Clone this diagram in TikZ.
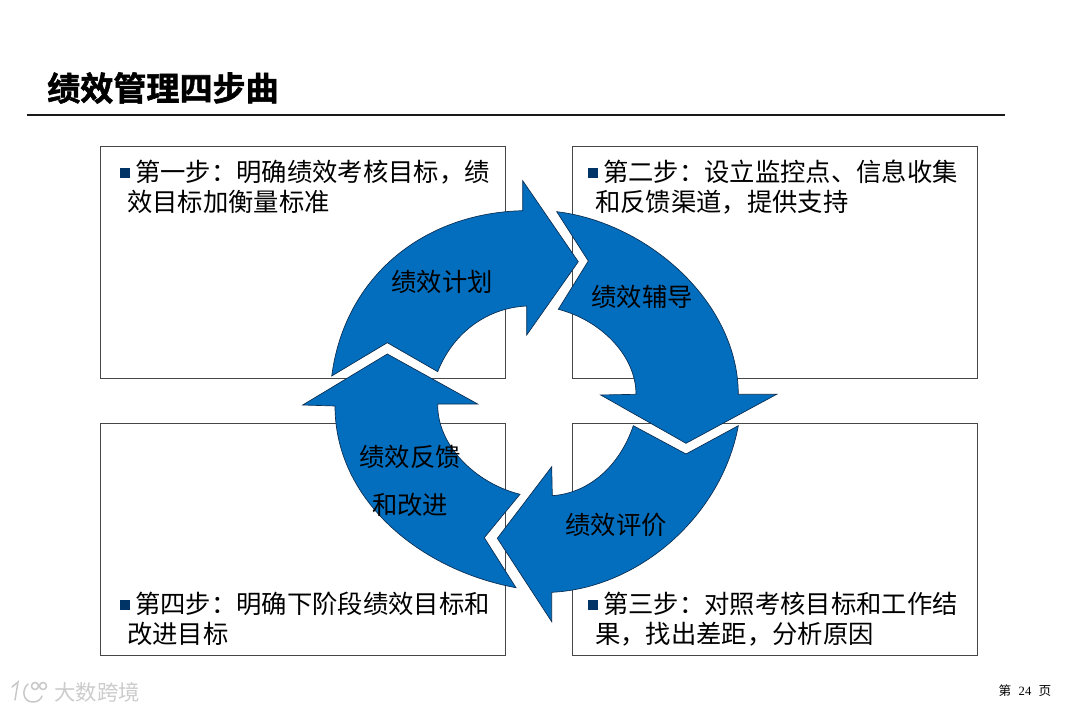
\documentclass[tikz,border=0pt]{standalone}
\usepackage{fontspec}
\setmainfont{Noto Sans CJK SC}
\newfontfamily\boldcjk[FakeBold=1.6]{Noto Sans CJK SC Bold}
\newfontfamily\serifnum{Liberation Serif}
\definecolor{arrowblue}{RGB}{4,110,190}
\definecolor{bulletnavy}{RGB}{0,51,102}
\definecolor{boxline}{RGB}{70,70,70}
\definecolor{arrowline}{RGB}{10,45,80}
\tikzset{
  x=0.75pt,y=-0.75pt,
  stepbox/.style={draw=boxline,line width=0.6pt,fill=white},
  flow/.style={draw=arrowline,line width=0.5pt,fill=arrowblue,line join=miter},
  bodytext/.style={anchor=west,inner sep=0pt,font=\fontsize{19}{22}\selectfont,text=black},
  flowtext/.style={anchor=center,inner sep=0pt,font=\fontsize{19}{22}\selectfont,text=black},
  bulletmark/.style={fill=bulletnavy,draw=none,minimum size=7.2pt,inner sep=0pt},
  marklogo/.style={draw=black!22,line width=1.1pt,line cap=round}
}
\begin{document}
\begin{tikzpicture}
\useasboundingbox (0,0) rectangle (1080,712);
\fill[white] (0,0) rectangle (1080,712);
% title
\node[anchor=west,inner sep=0pt,font=\boldcjk\fontsize{24.8}{28}\selectfont] (title) at (47,88) {绩效管理四步曲};
\coordinate (ruleL) at (27,115);
\coordinate (ruleR) at (1005,115);
\draw[line width=2pt,black!90] (ruleL) -- (ruleR);
% boxes
\draw[stepbox] (100,146) rectangle (505,378);
\draw[stepbox] (572,146) rectangle (977,378);
\draw[stepbox] (572,423) rectangle (977,655);
\draw[stepbox] (100,423) rectangle (505,655);
% box texts
\node[bulletmark] (b1) at (125,173) {};
\node[bodytext] (s1a) at (135,172) {第一步：明确绩效考核目标，绩};
\node[bodytext] (s1b) at (127,202) {效目标加衡量标准};
\node[bulletmark] (b2) at (593,173) {};
\node[bodytext] (s2a) at (603,172) {第二步：设立监控点、信息收集};
\node[bodytext] (s2b) at (595,202) {和反馈渠道，提供支持};
\node[bulletmark] (b3) at (593,605) {};
\node[bodytext] (s3a) at (603,604) {第三步：对照考核目标和工作结};
\node[bodytext] (s3b) at (595,634) {果，找出差距，分析原因};
\node[bulletmark] (b4) at (125,605) {};
\node[bodytext] (s4a) at (135,604) {第四步：明确下阶段绩效目标和};
\node[bodytext] (s4b) at (127,634) {改进目标};
% arrow 1
\draw[flow] (331.7,376) .. controls (345,275) and (425,213) .. (522.7,210.7)
  -- (522.7,180.7) -- (578.3,261.7) -- (526.7,335) -- (526.7,306)
  .. controls (485,308) and (452,335) .. (437.7,371.7) -- (387.3,342.7) -- cycle;
% arrow 2
\draw[flow] (556.7,211.7) .. controls (645,222) and (738,300) .. (738.3,394.3)
  -- (776.7,394.3) -- (686,443.3) -- (600.7,395) -- (636,394.3)
  .. controls (636,355) and (600,320) .. (558.3,309.3) -- (588.3,261) -- cycle;
% arrow 3
\draw[flow] (738.3,425.7) .. controls (722,515) and (640,588) .. (551.7,592.3)
  -- (551.7,621.7) -- (497.3,538.3) -- (551.7,466.7) -- (552.3,495.7)
  .. controls (590,493) and (620,465) .. (633.3,425.7) -- (686,454) -- cycle;
% arrow 4
\draw[flow] (516,587.7) .. controls (420,570) and (335,500) .. (335,406)
  -- (302.7,405) -- (387.3,354) -- (477.7,404) -- (437.7,404)
  .. controls (437,445) and (475,483) .. (520,494.3) -- (484.3,537.7) -- cycle;
% arrow labels
\node[flowtext] (f1) at (442,282) {绩效计划};
\node[flowtext] (f2) at (642,297) {绩效辅导};
\node[flowtext] (f3) at (616,525) {绩效评价};
\node[flowtext] (f4a) at (410,457) {绩效反馈};
\node[flowtext] (f4b) at (410,505) {和改进};
% page number
\node[anchor=center,inner sep=0pt,font=\fontsize{9.5}{11}\selectfont] (page) at (1025,691) {第\hspace{5.5pt}{\serifnum 24}\hspace{5.5pt}页};
% watermark
\draw[marklogo] (12,687) -- (18,682) -- (15,700);
\draw[marklogo] (28,684) .. controls (21,690) and (23,702) .. (33,702) .. controls (38,702) and (41,699) .. (42,696);
\draw[marklogo] (35,686) circle[radius=3.5];
\draw[marklogo] (43,686) circle[radius=3.5];
\node[anchor=center,inner sep=0pt,font=\fontsize{16}{18}\selectfont,text=black!20] (mark) at (97,692) {大数跨境};
\end{tikzpicture}
\end{document}
